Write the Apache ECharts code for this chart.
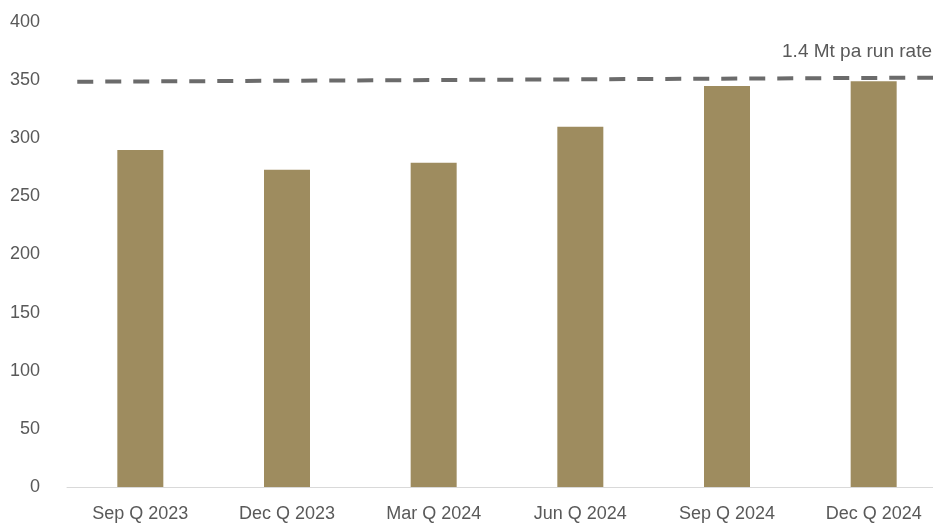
<!DOCTYPE html>
<html>
<head>
<meta charset="utf-8">
<script src="https://cdn.jsdelivr.net/npm/echarts@6/dist/echarts.min.js"></script>
<style>html,body{margin:0;padding:0;background:#fff;overflow:hidden;width:933px;height:526px;}#c{width:947px;height:526px;}</style>
</head>
<body>
<div id="c"></div>
<script>
const categories = ['Sep Q 2023','Dec Q 2023','Mar Q 2024','Jun Q 2024','Sep Q 2024','Dec Q 2024'];
const production = [290, 273, 279, 310, 345, 349];
const runRateLine = [[0.07, 348.6], [6, 352.2]];
const runRateLabel = '1.4 Mt pa run rate';
const yTicks = [0, 400, 50];

const FONT = "'Liberation Sans', Arial, sans-serif";
const chart = echarts.init(document.getElementById('c'), null, {renderer: 'canvas'});
chart.setOption({
  animation: false,
  backgroundColor: '#ffffff',
  grid: {left: 67, right: 0, top: 22, bottom: 39, containLabel: false},
  xAxis: [{
    type: 'category',
    data: categories,
    axisLine: {show: true, lineStyle: {color: '#d9d9d9', width: 1}},
    axisTick: {show: false},
    axisLabel: {color: '#595959', fontSize: 18, fontFamily: FONT, margin: 18}
  }, {
    type: 'value', min: 0, max: 6, show: false
  }],
  yAxis: {
    type: 'value', min: yTicks[0], max: yTicks[1], interval: yTicks[2],
    axisLine: {show: false}, axisTick: {show: false},
    splitLine: {show: false},
    axisLabel: {color: '#595959', fontSize: 18, fontFamily: FONT, margin: 27}
  },
  series: [{
    type: 'bar',
    data: production,
    barWidth: 46,
    itemStyle: {color: '#9e8c5f'},
    xAxisIndex: 0
  }, {
    type: 'line',
    xAxisIndex: 1,
    data: runRateLine,
    symbol: 'none',
    clip: false,
    lineStyle: {color: '#6b6b6b', width: 4, type: [16, 12]},
    z: 5
  }],
  graphic: [{
    type: 'text',
    right: 15, top: 42,
    style: {text: runRateLabel, fill: '#595959', font: '19px ' + FONT}
  }]
});
</script>
</body>
</html>
